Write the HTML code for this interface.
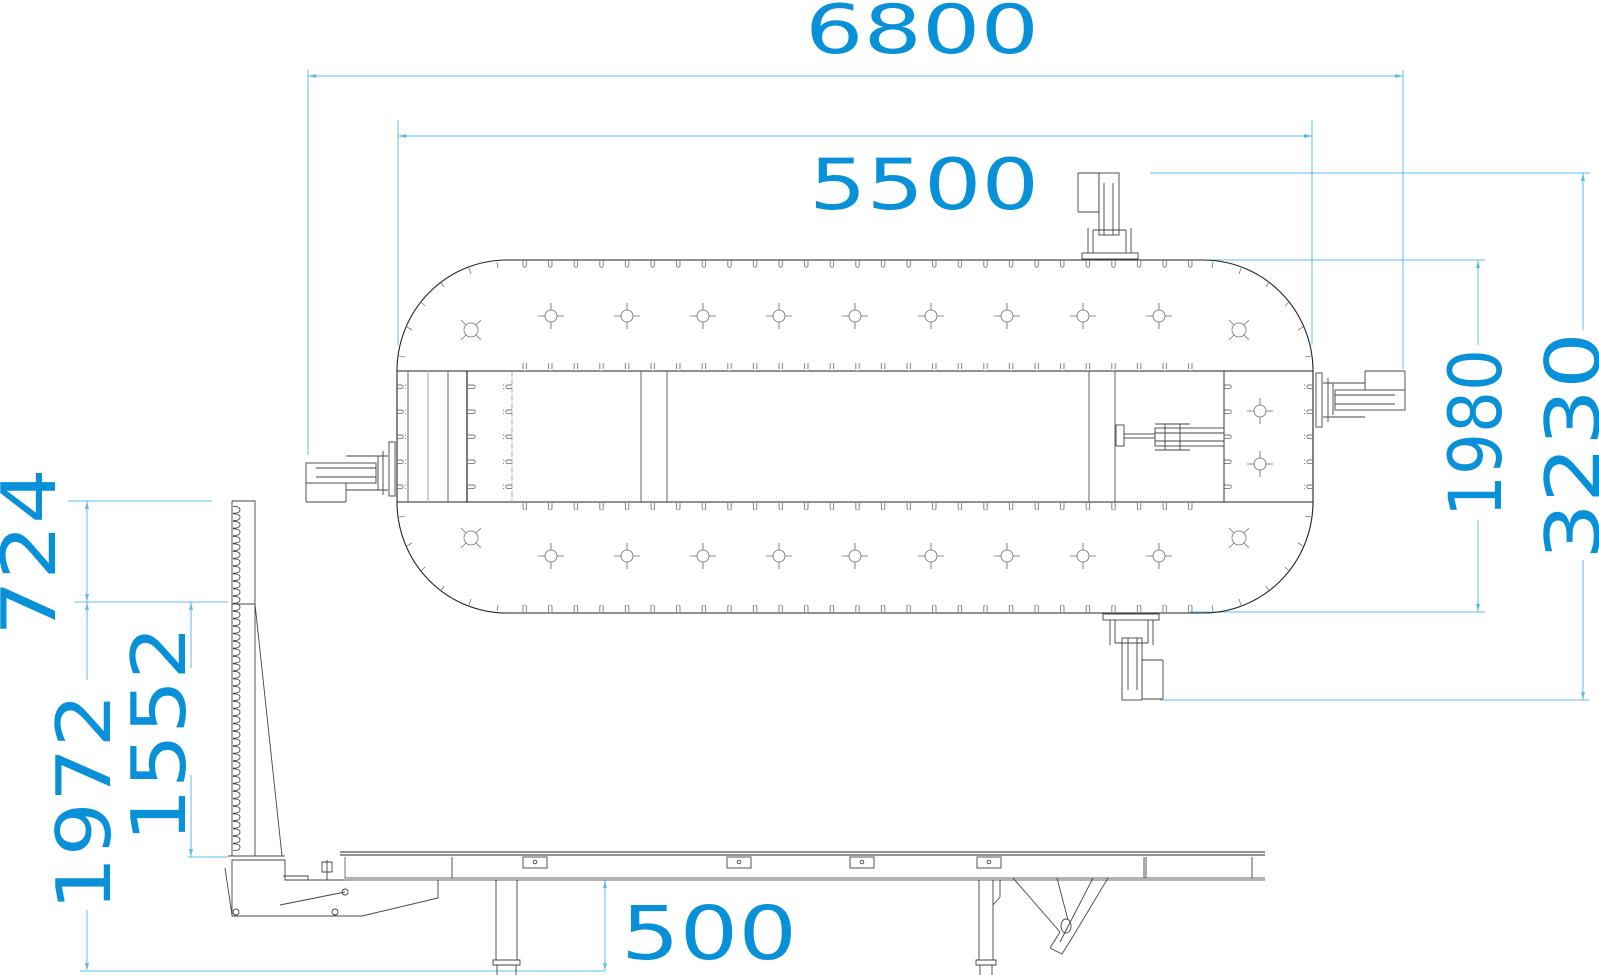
<!DOCTYPE html>
<html><head><meta charset="utf-8"><style>html,body{margin:0;padding:0;background:#fff}svg{display:block}</style></head>
<body>
<svg width="1599" height="975" viewBox="0 0 1599 975" xmlns="http://www.w3.org/2000/svg">
<defs>
<pattern id="tkD" x="521" y="260" width="25.6" height="9" patternUnits="userSpaceOnUse"><path d="M2,0 v5.5 a1.7,1.7 0 0 0 3.4,0 v-5.5" fill="none" stroke="#777" stroke-width="0.9"/></pattern>
<pattern id="tkU" x="521" y="0" width="25.6" height="9" patternUnits="userSpaceOnUse"><path d="M2,9 v-5.5 a1.7,1.7 0 0 1 3.4,0 v5.5" fill="none" stroke="#777" stroke-width="0.9"/></pattern>
<pattern id="tkR" x="0" y="383" width="9" height="25" patternUnits="userSpaceOnUse"><path d="M0,2 h5.5 a1.7,1.7 0 0 1 0,3.4 h-5.5" fill="none" stroke="#777" stroke-width="0.9"/></pattern>
<pattern id="tkL" x="0" y="383" width="9" height="25" patternUnits="userSpaceOnUse"><path d="M9,2 h-5.5 a1.7,1.7 0 0 0 0,3.4 h5.5" fill="none" stroke="#777" stroke-width="0.9"/></pattern>
<pattern id="rack" x="232" y="506" width="12" height="7.5" patternUnits="userSpaceOnUse"><path d="M1,0.3 C4,0.3 8,1 8,3.75 C8,6.5 4,7.2 1,7.2" fill="none" stroke="#444" stroke-width="0.9"/></pattern>
<g id="dh" fill="none" stroke="#666" stroke-width="0.8"><circle r="6"/><path d="M0,-6v-7M0,6v7M-6,0h-7M6,0h7"/></g>
<g id="sh" fill="none" stroke="#777" stroke-width="0.8"><circle r="7"/><path d="M5,-5l5,-5M-5,-5l-5,-5M5,5l5,5M-5,5l-5,5"/></g>
</defs>

<g stroke="#62bdec" stroke-width="1" fill="none">
<path d="M308,76H1403M308,70V455M1403,70V369"/>
<path d="M398,136H1312M398,120V345M1312,120V345"/>
<path d="M1150,173H1590M1583,173V330M1583,560V700M1160,700H1590"/>
<path d="M1210,260H1485M1478,260V345M1478,520V612M1190,612H1485"/>
<path d="M68,501H212M87,501V602M74,602H228M87,602V680M87,910V965M80,971H605"/>
<path d="M191,602V668M191,775V857M188,857H228"/>
<path d="M605,880V971"/>
</g>
<g fill="#62bdec">
<path d="M308,76l8,-2v4zM1403,76l-8,-2v4zM398,136l8,-2v4zM1312,136l-8,-2v4z"/>
<path d="M1583,173l-2,8h4zM1583,700l-2,-8h4zM1478,260l-2,8h4zM1478,612l-2,-8h4z"/>
<path d="M87,501l-2,8h4zM87,602l-2,-8h4zM87,602l-2,8h4zM87,971l-2,-8h4zM191,602l-2,8h4zM191,857l-2,-8h4zM605,880l-2,8h4zM605,971l-2,-8h4z"/>
</g>

<g fill="#0891d8" font-family="DejaVu Sans, Liberation Sans, sans-serif">
<text x="805" y="53" font-size="68" textLength="234" lengthAdjust="spacingAndGlyphs">6800</text>
<text x="809" y="209" font-size="70" textLength="230" lengthAdjust="spacingAndGlyphs">5500</text>
<text transform="translate(1501,433) rotate(-90)" text-anchor="middle" font-size="73" textLength="168" lengthAdjust="spacingAndGlyphs">1980</text>
<text transform="translate(1599,446) rotate(-90)" text-anchor="middle" font-size="75" textLength="228" lengthAdjust="spacingAndGlyphs">3230</text>
<text transform="translate(55,552) rotate(-90)" text-anchor="middle" font-size="75" textLength="168" lengthAdjust="spacingAndGlyphs">724</text>
<text transform="translate(110,802) rotate(-90)" text-anchor="middle" font-size="75" textLength="218" lengthAdjust="spacingAndGlyphs">1972</text>
<text transform="translate(185,734) rotate(-90)" text-anchor="middle" font-size="75" textLength="217" lengthAdjust="spacingAndGlyphs">1552</text>
<text x="621" y="959" font-size="74" textLength="176" lengthAdjust="spacingAndGlyphs">500</text>
</g>

<g fill="none" stroke="#222" stroke-width="1.1">
<path d="M507,260H1203A110,111 0 0 1 1313,371V502A110,111 0 0 1 1203,613H507A110,111 0 0 1 397,502V371A110,111 0 0 1 507,260Z"/>
<path d="M397,371H1313M397,502H1313"/>
</g>
<rect x="510" y="260" width="700" height="8" fill="url(#tkD)"/>
<rect x="510" y="363" width="700" height="8" fill="url(#tkU)"/>
<rect x="510" y="502" width="700" height="8" fill="url(#tkD)"/>
<rect x="510" y="605" width="700" height="8" fill="url(#tkU)"/>
<rect x="397" y="375" width="9" height="125" fill="url(#tkR)"/>
<rect x="467" y="375" width="9" height="125" fill="url(#tkR)"/>
<rect x="503" y="375" width="9" height="125" fill="url(#tkL)"/>
<rect x="1224" y="375" width="9" height="125" fill="url(#tkR)"/>
<rect x="1304" y="375" width="9" height="125" fill="url(#tkL)"/>
<g stroke="#555" stroke-width="0.9">
<path d="M408,371V502M448,371V502M641,371V502M667,371V502M1089,371V502M1115,371V502"/>
<path d="M428,371V502" stroke="#bbb" stroke-width="1.4"/>
<path d="M467,371V502" stroke="#111" stroke-width="1.1"/>
<path d="M512,371V502" stroke="#999" stroke-dasharray="6,2"/>
<path d="M1224,371V502" stroke="#222"/>
</g>
<g stroke="#777" stroke-width="0.8">
<path d="M497,262l1,6M469,268l2,6M441,282l3,5M421,302l4,4M407,327l5,3M399,356l6,1"/>
<path d="M1213,262l-1,6M1241,268l-2,6M1269,282l-3,5M1289,302l-4,4M1303,327l-5,3M1311,356l-6,1"/>
<path d="M497,611l1,-6M469,605l2,-6M441,591l3,-5M421,571l4,-4M407,546l5,-3M399,517l6,-1"/>
<path d="M1213,611l-1,-6M1241,605l-2,-6M1269,591l-3,-5M1289,571l-4,-4M1303,546l-5,-3M1311,517l-6,-1"/>
</g>
<g>
<use href="#dh" x="551" y="316"/><use href="#dh" x="627" y="316"/><use href="#dh" x="703" y="316"/><use href="#dh" x="779" y="316"/><use href="#dh" x="855" y="316"/><use href="#dh" x="931" y="316"/><use href="#dh" x="1007" y="316"/><use href="#dh" x="1083" y="316"/><use href="#dh" x="1159" y="316"/>
<use href="#dh" x="551" y="556"/><use href="#dh" x="627" y="556"/><use href="#dh" x="703" y="556"/><use href="#dh" x="779" y="556"/><use href="#dh" x="855" y="556"/><use href="#dh" x="931" y="556"/><use href="#dh" x="1007" y="556"/><use href="#dh" x="1083" y="556"/><use href="#dh" x="1159" y="556"/>
<use href="#dh" x="1260" y="411"/><use href="#dh" x="1260" y="464"/>
<use href="#sh" x="471" y="330"/><use href="#sh" x="1239" y="330"/><use href="#sh" x="471" y="538"/><use href="#sh" x="1239" y="538"/>
</g>

<g fill="#fff" stroke="#444" stroke-width="0.9">
<rect x="1078" y="173" width="21" height="39" rx="1"/>
<rect x="1099" y="173" width="20" height="62"/>
<path d="M1104,183V235M1113,183V235M1093,230H1126M1093,230V255M1126,230V255M1088,228V255M1131,228V255"/>
<rect x="1082" y="253" width="56" height="6"/>
<rect x="1142" y="660" width="21" height="39" rx="1"/>
<rect x="1122" y="638" width="20" height="62"/>
<path d="M1128,638V690M1137,638V690M1115,643H1148M1115,620V643M1148,620V643M1110,620V645M1153,620V645"/>
<rect x="1103" y="614" width="56" height="6"/>
<rect x="1365" y="371" width="40" height="19" rx="1"/>
<rect x="1335" y="390" width="70" height="20"/>
<path d="M1335,395H1395M1335,404H1395M1333,383V415M1323,383H1365M1323,417H1365M1328,378V422"/>
<rect x="1316" y="373" width="6" height="54"/>
<rect x="306" y="483" width="40" height="19" rx="1"/>
<rect x="306" y="463" width="70" height="20"/>
<path d="M316,468H376M316,477H376M378,456V490M346,456H388M346,490H388M383,451V495"/>
<rect x="389" y="442" width="6" height="54"/>
<rect x="1116" y="425" width="8" height="21"/>
<rect x="1124" y="434" width="31" height="4"/>
<rect x="1155" y="428" width="69" height="18"/>
<path d="M1155,433H1224M1155,441H1224M1165,424V450M1180,424V450M1155,424H1190M1155,450H1190"/>
</g>

<g fill="none" stroke="#444" stroke-width="0.9">
<path d="M232,501H255V856M232,501V856M232,604H255M255,604L282,856M228,856H285"/>
<path d="M232,860H285V880H438V898L362,916H232Z"/>
<path d="M225,868L232,915"/>
<path d="M280,905L345,892"/>
<circle cx="345" cy="892" r="3"/>
<circle cx="236" cy="912" r="3"/><circle cx="335" cy="912" r="3"/>
<path d="M283,876H308V880"/>
<path d="M340,855H1265M340,852H1265" stroke="#222"/>
<path d="M345,857V878H1265M345,880H1265M350,880H1240" stroke="#666"/>
<path d="M452,857V878M1144,857V878M1146,857V878M1252,857V878"/>
<rect x="523" y="857" width="24" height="11"/><rect x="727" y="857" width="24" height="11"/><rect x="850" y="857" width="24" height="11"/><rect x="977" y="857" width="24" height="11"/>
<circle cx="535" cy="862" r="1.8"/><circle cx="739" cy="862" r="1.8"/><circle cx="862" cy="862" r="1.8"/><circle cx="989" cy="862" r="1.8"/>
<path d="M496,880V960M517,880V960M493,960H520V965H493ZM497,965V975M516,965V975"/>
<path d="M979,880V960M993,880V960M976,960H996V965H976ZM980,965V975M992,965V975M1000,880V897L993,905"/>
<path d="M1013,878L1060,932M1057,878L1068,920M1093,878L1060,942M1108,878L1072,938M1050,948L1060,932M1072,938L1062,954L1050,948"/>
<ellipse cx="1066" cy="926" rx="5" ry="7"/>
<path d="M327,860V880M322,862H332V872H322Z"/>
</g>
<rect x="232" y="506" width="12" height="345" fill="url(#rack)"/>
</svg>
</body></html>
